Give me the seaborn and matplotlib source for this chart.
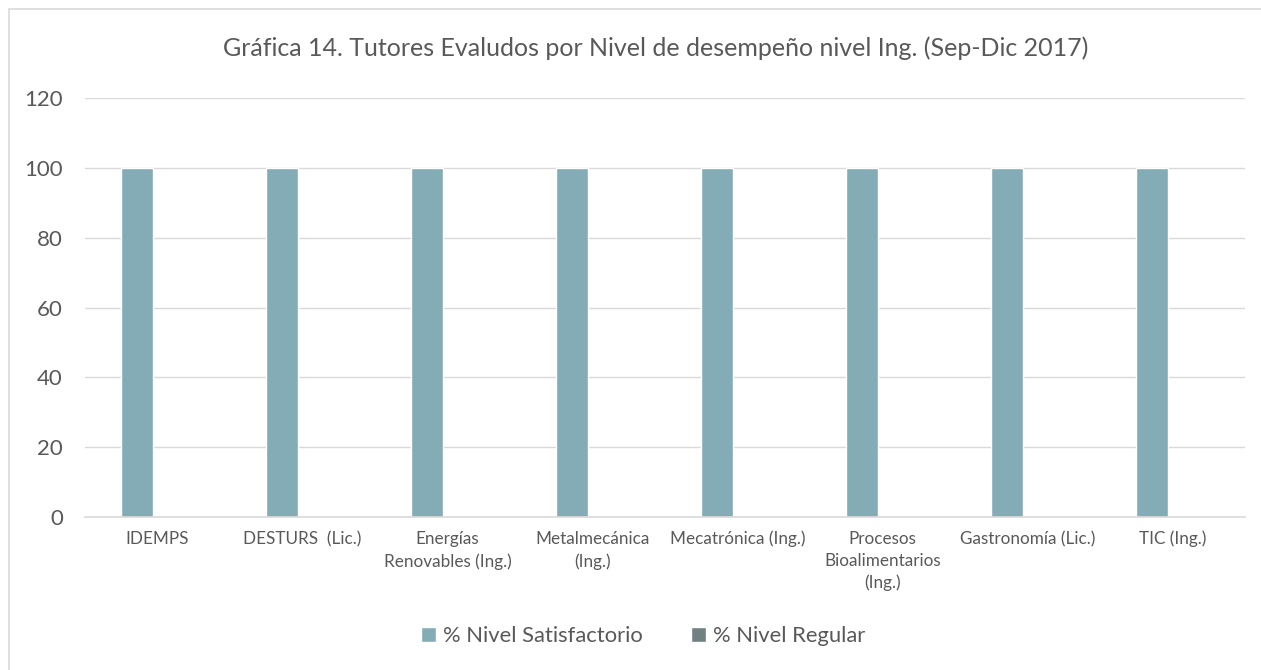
import pandas as pd
import seaborn as sns
import matplotlib.pyplot as plt
from matplotlib.patches import Rectangle

carreras = ["IDEMPS", "DESTURS  (Lic.)", "Energías\nRenovables (Ing.)",
            "Metalmecánica\n(Ing.)", "Mecatrónica (Ing.)",
            "Procesos\nBioalimentarios\n(Ing.)", "Gastronomía (Lic.)", "TIC (Ing.)"]
satisfactorio = [100, 100, 100, 100, 100, 100, 100, 100]
regular = [0, 0, 0, 0, 0, 0, 0, 0]
series = ["% Nivel Satisfactorio", "% Nivel Regular"]
colores = ["#84acb6", "#6f8183"]

df = pd.DataFrame({
    "carrera": carreras * 2,
    "serie": [series[0]] * len(carreras) + [series[1]] * len(carreras),
    "valor": satisfactorio + regular,
})

sns.set_theme(style="white")
plt.rcParams["font.family"] = ["Lato", "DejaVu Sans"]
txt = "#595959"

fig = plt.figure(figsize=(12.61, 6.7), dpi=100)
ax = fig.add_axes([85 / 1261, 1 - 517 / 670, 1160 / 1261, 419 / 670])

sns.barplot(data=df, x="carrera", y="valor", hue="serie", palette=colores,
            width=0.566, gap=0.21, saturation=1, ax=ax, legend=True)

ax.set_ylim(0, 120)
ax.set_xlim(-0.5, len(carreras) - 0.5)
ax.set_yticks(range(0, 121, 20))
ax.yaxis.grid(True, color="#d9d9d9", lw=1)
ax.set_axisbelow(True)
for s in ["top", "right", "left"]:
    ax.spines[s].set_visible(False)
ax.spines["bottom"].set_color("#d9d9d9")
ax.spines["bottom"].set_linewidth(1.2)
ax.set_xlabel("")
ax.set_ylabel("")
ax.tick_params(axis="y", length=0, pad=16, labelsize=16, labelcolor=txt)
ax.tick_params(axis="x", length=0, pad=10, labelsize=12.3, labelcolor=txt)
for lab in ax.get_xticklabels():
    lab.set_linespacing(1.45)
    lab.set_ha("center")

ax.legend(loc="center", bbox_to_anchor=((643 - 85) / 1160, (517 - 636) / 419),
          ncol=2, frameon=False, fontsize=15.8, handlelength=0.7, handleheight=0.7,
          handletextpad=0.3, columnspacing=2.2, labelcolor=txt)

fig.text(656 / 1261, 1 - 48 / 670,
         "Gráfica 14. Tutores Evaludos por Nivel de desempeño nivel Ing. (Sep-Dic 2017)",
         ha="center", va="center", fontsize=18, color=txt)

fig.patches.append(Rectangle((9 / 1261, -0.05), 1.1, 1 - 9 / 670 + 0.05,
                             transform=fig.transFigure, fill=False,
                             edgecolor="#d9d9d9", lw=1.2))

fig.savefig("out.png", dpi=100)
